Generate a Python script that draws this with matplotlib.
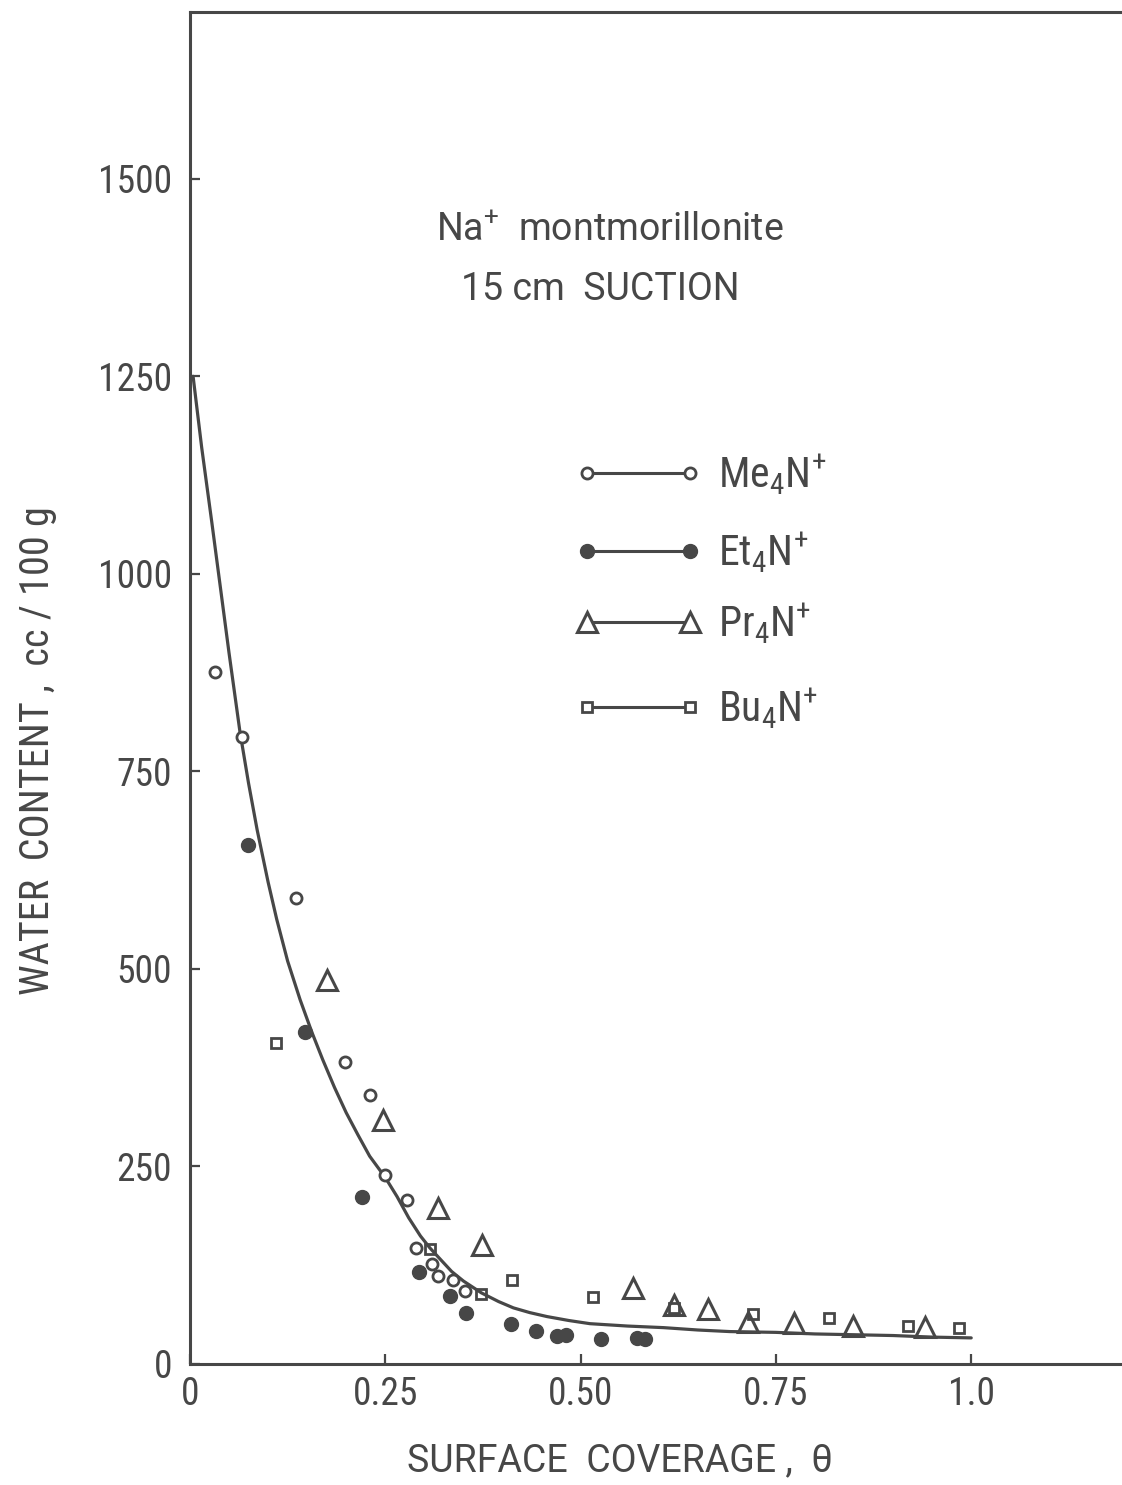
import numpy as np
import matplotlib
matplotlib.use("Agg")
import matplotlib.pyplot as plt

plt.rcParams['font.family'] = ['Roboto Condensed', 'DejaVu Sans']

ink = '#474747'
wide_font = ['Roboto', 'DejaVu Sans']

# values (surface coverage, water content cc/100 g)
me_theta = [0.032, 0.067, 0.136, 0.198, 0.230, 0.250, 0.278, 0.289, 0.310, 0.318, 0.337, 0.352]
me_water = [876, 794, 590, 382, 340, 239, 208, 147, 127, 111, 106, 92]

et_theta = [0.074, 0.147, 0.220, 0.293, 0.333, 0.353, 0.411, 0.443, 0.470, 0.481, 0.526, 0.572, 0.583]
et_water = [657, 420, 211, 116, 86, 65, 51, 42, 35, 37, 32, 33, 32]

pr_theta = [0.175, 0.247, 0.318, 0.374, 0.567, 0.620, 0.663, 0.714, 0.773, 0.849, 0.941]
pr_water = [486, 309, 197, 151, 96, 75, 70, 53, 52, 48, 47]

bu_theta = [0.110, 0.307, 0.373, 0.412, 0.516, 0.620, 0.721, 0.818, 0.919, 0.985]
bu_water = [406, 146, 89, 106, 85, 71, 63, 58, 48, 46]

# hand drawn curve, read point by point
curve_theta = [0.004, 0.015, 0.028, 0.040, 0.050, 0.064, 0.075, 0.086, 0.100, 0.111,
               0.125, 0.141, 0.156, 0.170, 0.185, 0.200, 0.215, 0.230, 0.250, 0.265,
               0.280, 0.295, 0.307, 0.320, 0.335, 0.350, 0.373, 0.395, 0.414, 0.435,
               0.457, 0.485, 0.512, 0.560, 0.606, 0.650, 0.691, 0.750, 0.800, 0.850,
               0.900, 0.950, 1.0]
curve_water = [1250, 1160, 1065, 975, 900, 800, 735, 676, 610, 563,
               510, 461, 420, 385, 350, 318, 290, 263, 236, 212,
               185, 162, 147, 133, 117, 105, 90, 79, 71, 65,
               60, 55, 51, 48, 46, 43, 41, 40, 38, 37,
               36, 34, 33]

xticks = [0, 0.25, 0.5, 0.75, 1.0]
xticklabels = ['0', '0.25', '0.50', '0.75', '1.0']
yticks = [0, 250, 500, 750, 1000, 1250, 1500]

fig = plt.figure(figsize=(11.22, 14.85), dpi=100)
ax = fig.add_axes([0.1693, 0.0815, 0.8307, 0.9104])

ax.plot(curve_theta, curve_water, color=ink, lw=2.3, solid_capstyle='round', solid_joinstyle='round')

ax.plot(me_theta, me_water, 'o', ms=8, mfc='white', mec=ink, mew=2.0, ls='none')
ax.plot(et_theta, et_water, 'o', ms=10, mfc=ink, mec=ink, ls='none')
ax.plot(pr_theta, pr_water, '^', ms=15, mfc='none', mec=ink, mew=2.2, ls='none')
ax.plot(bu_theta, bu_water, 's', ms=7.5, mfc='none', mec=ink, mew=2.0, ls='none')

ax.set_xlim(0, 1.193)
ax.set_ylim(0, 1711)
ax.set_xticks(xticks)
ax.set_xticklabels(xticklabels)
ax.set_yticks(yticks)
ax.tick_params(direction='in', length=7, width=1.6, colors=ink, labelsize=27)
ax.tick_params(axis='y', pad=13)
ax.tick_params(axis='x', pad=9)
ax.spines['right'].set_visible(False)
for s in ['left', 'top', 'bottom']:
    ax.spines[s].set_linewidth(2.2)
    ax.spines[s].set_color(ink)

ax.set_xlabel('SURFACE  COVERAGE ,  θ', fontsize=27, color=ink, family=wide_font)
ax.xaxis.set_label_coords(0.461, -0.058)
ax.set_ylabel('WATER  CONTENT ,  cc / 100 g', fontsize=29, color=ink)
ax.yaxis.set_label_coords(-0.143, 0.454)

ax.text(0.264, 0.831, r'Na$^\mathregular{+}$  montmorillonite', transform=ax.transAxes,
        fontsize=27, color=ink, va='baseline', family=wide_font)
ax.text(0.291, 0.787, '15 cm  SUCTION', transform=ax.transAxes,
        fontsize=27, color=ink, va='baseline', family=wide_font)

# key drawn by hand as in the original
key_labels = [r'Me$_\mathregular{4}$N$^\mathregular{+}$', r'Et$_\mathregular{4}$N$^\mathregular{+}$',
              r'Pr$_\mathregular{4}$N$^\mathregular{+}$', r'Bu$_\mathregular{4}$N$^\mathregular{+}$']
key_rows = [0.659, 0.601, 0.549, 0.486]
key_style = [dict(marker='o', ms=8, mfc='white', mec=ink, mew=2.0),
             dict(marker='o', ms=10, mfc=ink, mec=ink),
             dict(marker='^', ms=15, mfc='white', mec=ink, mew=2.2),
             dict(marker='s', ms=7.5, mfc='white', mec=ink, mew=2.0)]
for lab, yr, st in zip(key_labels, key_rows, key_style):
    ax.plot([0.426, 0.536], [yr, yr], color=ink, lw=2.2, transform=ax.transAxes, **st)
    ax.text(0.567, yr - 0.011, lab, transform=ax.transAxes, fontsize=30, color=ink,
            va='baseline')

fig.savefig('out.png', dpi=100)
